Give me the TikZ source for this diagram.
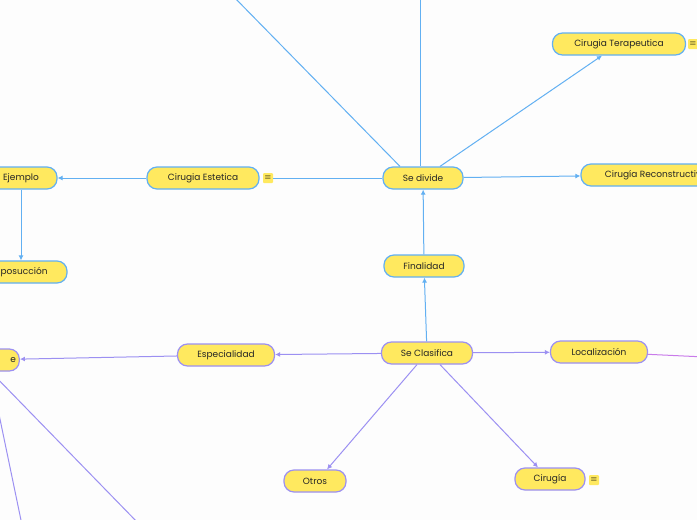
\documentclass[tikz,border=0pt]{standalone}
\usepackage{fontspec}
\setmainfont{Poppins}
\usetikzlibrary{arrows.meta, positioning}
\definecolor{topicfill}{HTML}{FFE95F}
\definecolor{bluelink}{HTML}{62B0F2}
\definecolor{purplelink}{HTML}{9C90F2}
\definecolor{pinklink}{HTML}{C97BEA}
\definecolor{canvas}{HTML}{FDFDFD}
\tikzstyle{topic} = [rectangle, rounded corners=10pt, minimum height=22pt, text centered, fill=topicfill, text=black!85, line width=1.2pt, font=\fontsize{9}{10}\selectfont]
\tikzstyle{bluetopic} = [topic, draw=bluelink]
\tikzstyle{purpletopic} = [topic, draw=purplelink]
\tikzstyle{notemark} = [rectangle, rounded corners=1pt, fill=topicfill, minimum size=10pt, inner sep=0pt, font=\fontsize{8}{8}\selectfont]
\tikzstyle{blueline} = [bluelink, line width=1pt]
\tikzstyle{bluearrow} = [blueline, -{Latex[length=5pt,width=5pt]}]
\tikzstyle{purpleline} = [purplelink, line width=1pt]
\tikzstyle{purplearrow} = [purpleline, -{Latex[length=5pt,width=5pt]}]

\begin{document}
\begin{tikzpicture}[x=1pt, y=-1pt]
    \useasboundingbox (0,0) rectangle (697,520);
    \fill [canvas] (0,0) rectangle (697,520);
    \clip (0,0) rectangle (697,520);

    % blue branch
    \node (sd) [bluetopic, minimum width=80pt] at (423,178) {Se divide};
    \node (est) [bluetopic, minimum width=112pt] at (203,178) {Cirugia Estetica};
    \node (nest) [notemark] at (268,178) {$\equiv$};
    \node (ej) [bluetopic, minimum width=72pt] at (21,178) {Ejemplo};
    \node (lipo) [bluetopic, minimum width=92pt] at (21,272) {Liposucción};
    \node (ter) [bluetopic, minimum width=133pt] at (619,44) {Cirugia Terapeutica};
    \node (nter) [notemark] at (693,44) {$\equiv$};
    \node (rec) [bluetopic, minimum width=150pt] at (656,175) {Cirugía Reconstructiva};
    \node (fin) [bluetopic, minimum width=80pt] at (424,266) {Finalidad};
    \coordinate (upa) at (420,-5);
    \coordinate (upb) at (232,-5);

    % purple branch
    \node (cla) [purpletopic, minimum width=91pt] at (427,353) {Se Clasifica};
    \node (esp) [purpletopic, minimum width=97pt] at (226,355) {Especialidad};
    \node (lft) [purpletopic, text width=80pt, align=right] at (-24,360) {e};
    \node (loc) [purpletopic, minimum width=97pt] at (599,352) {Localización};
    \node (otros) [purpletopic, minimum width=62pt] at (315,481) {Otros};
    \node (cir) [purpletopic, minimum width=70pt] at (550,479) {Cirugía};
    \node (ncir) [notemark] at (594,480) {$\equiv$};
    \coordinate (lftb) at (-10,371);
    \coordinate (dna) at (22,525);
    \coordinate (dnb) at (140,525);
    \coordinate (rta) at (705,357);

    \draw [blueline] (sd) -- (nest);
    \draw [bluearrow] (est) -- (ej);
    \draw [bluearrow] (ej) -- (lipo);
    \draw [bluearrow] ([xshift=17pt]sd.north) -- ([xshift=-17pt]ter.south);
    \draw [bluearrow] (sd) -- (rec);
    \draw [blueline] ([xshift=-3pt]sd.north) -- (upa);
    \draw [blueline] ([xshift=-23pt]sd.north) -- (upb);
    \draw [bluearrow] (fin) -- (sd);
    \draw [bluearrow] (cla) -- (fin);

    \draw [purplearrow] (cla) -- (esp);
    \draw [purplearrow] (esp) -- (lft);
    \draw [purplearrow] (cla) -- (loc);
    \draw [purplearrow] ([xshift=-10pt]cla.south) -- ([xshift=12pt]otros.north);
    \draw [purplearrow] ([xshift=13pt]cla.south) -- ([xshift=-12pt]cir.north);
    \draw [purpleline] (lftb) -- (dna);
    \draw [purpleline] (lftb) -- (dnb);
    \draw [pinklink, line width=1pt] (loc) -- (rta);
\end{tikzpicture}
\end{document}
